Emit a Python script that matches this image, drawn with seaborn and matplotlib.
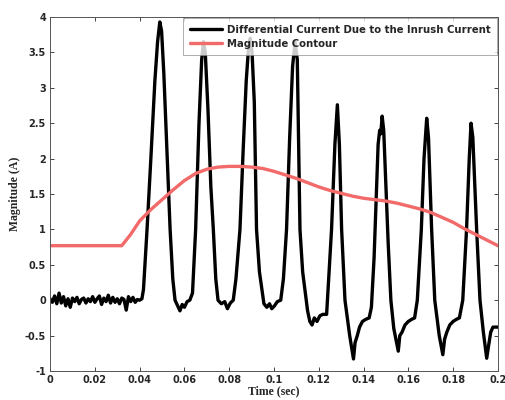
import numpy as np
import pandas as pd
import matplotlib
matplotlib.use("Agg")
import matplotlib.pyplot as plt
import seaborn as sns

# ---- data ----
# quiet part before the inrush starts (small measurement noise)
noise_t = [0.000, 0.001, 0.002, 0.003, 0.004, 0.005, 0.006, 0.007, 0.008, 0.009,
           0.010, 0.011, 0.012, 0.013, 0.014, 0.015, 0.016, 0.017, 0.018, 0.019,
           0.020, 0.021, 0.022, 0.023, 0.024, 0.025, 0.026, 0.027, 0.028, 0.029,
           0.030, 0.031, 0.032, 0.033, 0.034, 0.035, 0.036, 0.037, 0.038, 0.039,
           0.040, 0.041]
noise_v = [0.02, -0.03, 0.06, -0.05, 0.10, -0.04, 0.05, -0.08, 0.02, -0.10,
           0.03, -0.02, 0.04, -0.05, 0.01, 0.03, -0.04, 0.02, -0.02, 0.05,
           -0.03, 0.02, 0.06, -0.06, 0.03, -0.02, 0.07, -0.04, 0.04, -0.03,
           0.02, -0.05, 0.03, 0.01, -0.14, 0.05, -0.02, 0.04, -0.03, 0.01,
           0.00, 0.02]

# inrush cycles
wave_t = [0.0417, 0.0433, 0.0450, 0.0468, 0.0480, 0.0490, 0.0498, 0.0508, 0.0522, 0.0536,
          0.0548, 0.0558, 0.0570, 0.0580, 0.0590, 0.0600, 0.0612, 0.0624,
          0.0636, 0.0650, 0.0665, 0.0677, 0.0685, 0.0693, 0.0705, 0.0718, 0.0729, 0.0740, 0.0750,
          0.0765, 0.0780, 0.0792, 0.0805, 0.0818,
          0.0830, 0.0848, 0.0862, 0.0876, 0.0886, 0.0894, 0.0902, 0.0912, 0.0922, 0.0935, 0.0955,
          0.0968, 0.0980, 0.0990, 0.1002, 0.1015, 0.1030,
          0.1042, 0.1056, 0.1070, 0.1083, 0.1094, 0.1104, 0.1116, 0.1128, 0.1140, 0.1150,
          0.1160, 0.1170, 0.1180, 0.1192, 0.1205, 0.1218, 0.1235,
          0.1257, 0.1272, 0.1283, 0.1292, 0.1302, 0.1317, 0.1338, 0.1355,
          0.1362, 0.1372, 0.1382, 0.1395, 0.1410, 0.1425,
          0.1435, 0.1447, 0.1457, 0.1465, 0.1472, 0.1477, 0.1483, 0.1490, 0.1500, 0.1510,
          0.1522, 0.1535, 0.1555,
          0.1562, 0.1572, 0.1585, 0.1600, 0.1615, 0.1628,
          0.1640, 0.1658, 0.1670, 0.1682, 0.1690, 0.1704, 0.1718, 0.1738, 0.1754,
          0.1762, 0.1772, 0.1785, 0.1800, 0.1815, 0.1828,
          0.1843, 0.1860, 0.1872, 0.1880, 0.1888, 0.1905, 0.1920, 0.1935, 0.1950,
          0.1958, 0.1968, 0.1978, 0.2000]
wave_v = [0.15, 1.00, 2.00, 3.10, 3.65, 3.93, 3.80, 3.20, 2.10, 1.00,
          0.30, 0.00, -0.08, -0.15, -0.06, -0.10, -0.02, 0.00,
          0.10, 1.00, 2.50, 3.40, 3.65, 3.50, 2.70, 1.60, 1.00, 0.30, 0.00,
          -0.05, -0.02, -0.12, -0.04, 0.00,
          0.30, 1.00, 2.10, 3.10, 3.55, 3.70, 3.50, 2.80, 1.00, 0.40, -0.05,
          -0.10, -0.05, -0.12, -0.08, -0.02, 0.00,
          0.30, 1.00, 2.30, 3.30, 3.65, 3.40, 1.00, 0.40, 0.10, -0.15,
          -0.30, -0.35, -0.25, -0.30, -0.22, -0.20, -0.20,
          1.00, 2.20, 2.76, 2.20, 1.00, 0.00, -0.50, -0.83,
          -0.60, -0.50, -0.38, -0.30, -0.27, -0.25,
          -0.10, 0.60, 1.50, 2.20, 2.40, 2.35, 2.60, 2.40, 1.60, 0.80,
          0.00, -0.40, -0.72,
          -0.50, -0.45, -0.35, -0.30, -0.27, -0.25,
          0.00, 1.00, 2.00, 2.57, 2.30, 1.00, 0.00, -0.50, -0.77,
          -0.55, -0.45, -0.35, -0.30, -0.27, -0.25,
          0.00, 1.00, 2.00, 2.50, 2.30, 1.00, 0.00, -0.45, -0.82,
          -0.65, -0.45, -0.38, -0.38]

# magnitude contour
contour_t = [0.000, 0.032, 0.036, 0.040, 0.045, 0.050, 0.055, 0.060, 0.065, 0.070,
             0.075, 0.080, 0.085, 0.090, 0.095, 0.100, 0.105, 0.110, 0.115, 0.120,
             0.125, 0.130, 0.135, 0.140, 0.145, 0.150, 0.155, 0.160, 0.165, 0.170,
             0.175, 0.180, 0.185, 0.190, 0.195, 0.200]
contour_v = [0.77, 0.77, 0.93, 1.12, 1.28, 1.42, 1.56, 1.69, 1.79, 1.85,
             1.88, 1.89, 1.89, 1.88, 1.86, 1.82, 1.77, 1.72, 1.66, 1.60,
             1.55, 1.51, 1.47, 1.44, 1.42, 1.40, 1.37, 1.33, 1.29, 1.24,
             1.17, 1.10, 1.01, 0.93, 0.85, 0.77]

# ---- plot ----
sns.set_style("ticks")
plt.rcParams['font.family'] = ['DejaVu Sans']

black = pd.DataFrame({'t': noise_t + wave_t, 'v': noise_v + wave_v})
red = pd.DataFrame({'t': contour_t, 'v': contour_v})

fig = plt.figure(figsize=(5.06, 4.0), dpi=100)
ax = fig.add_axes([0.099, 0.0725, 0.885, 0.885])

sns.lineplot(data=black, x='t', y='v', ax=ax, color='black', lw=2.4, sort=False,
             estimator=None, label='Differential Current Due to the Inrush Current')
sns.lineplot(data=red, x='t', y='v', ax=ax, color='#f26a6a', lw=2.4, sort=False,
             estimator=None, label='Magnitude Contour')

ax.set_xlim(0, 0.2)
ax.set_ylim(-1, 4)
ax.set_xticks(np.arange(0, 0.201, 0.02))
ax.set_xticklabels(['0', '0.02', '0.04', '0.06', '0.08', '0.1', '0.12', '0.14',
                    '0.16', '0.18', '0.2'])
ax.set_yticks(np.arange(-1, 4.01, 0.5))
ax.set_yticklabels(['-1', '-0.5', '0', '0.5', '1', '1.5', '2', '2.5', '3', '3.5', '4'])
ax.tick_params(direction='in', top=True, right=True, length=3, width=0.6,
               labelsize=7, pad=3)
for lab in ax.get_xticklabels() + ax.get_yticklabels():
    lab.set_fontweight('bold')
for sp in ax.spines.values():
    sp.set_linewidth(0.7)
    sp.set_color('#555555')

ax.set_xlabel('Time (sec)', family='Liberation Serif', fontsize=8.5, fontweight='bold',
              labelpad=0)
ax.set_ylabel('Magnitude (A)', family='Liberation Serif', fontsize=8.5, fontweight='bold',
              labelpad=3)

leg = ax.legend(loc='upper right', bbox_to_anchor=(1.0, 1.0), borderaxespad=0.1,
                prop={'weight': 'bold', 'size': 7.3}, frameon=True, fancybox=False,
                handlelength=3.2, borderpad=0.65, labelspacing=0.4, handletextpad=0.4)
leg.get_frame().set_edgecolor('#888888')
leg.get_frame().set_linewidth(0.6)

fig.savefig('out.png', dpi=100)
